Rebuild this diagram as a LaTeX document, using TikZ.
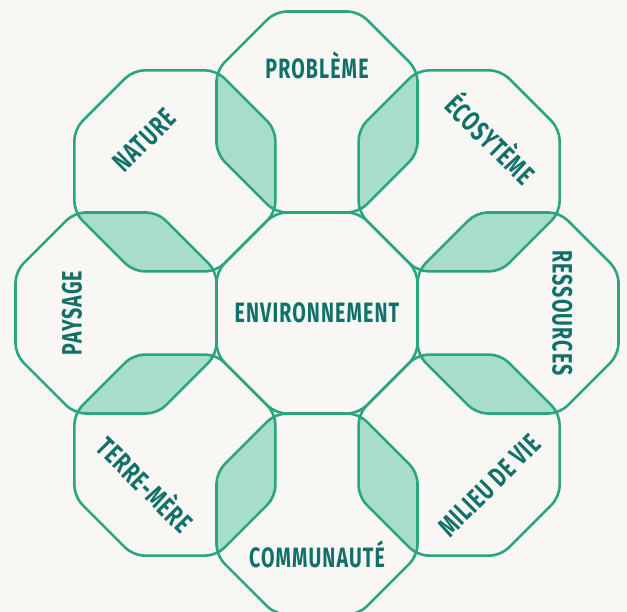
\documentclass[tikz,border=0pt]{standalone}
\usepackage{fontspec}
\newfontfamily\labelfont{Fira Sans}[FakeStretch=0.7,LetterSpace=4]
\definecolor{octline}{HTML}{2AA57E}
\definecolor{octfill}{HTML}{A8DCCB}
\definecolor{labeltext}{HTML}{12706A}
\definecolor{paper}{HTML}{F9F7F3}
% one octagon round the origin
\newcommand{\octo}{(22.5:108.8) -- (67.5:108.8) -- (112.5:108.8) -- (157.5:108.8) -- (202.5:108.8) -- (247.5:108.8) -- (292.5:108.8) -- (337.5:108.8) -- cycle}

\begin{document}
\begin{tikzpicture}[x=1pt,y=1pt,
  octo/.style={draw=octline,line width=2.6pt,rounded corners=11pt},
  lab/.style={font=\labelfont\bfseries\fontsize{28}{28}\selectfont,text=labeltext,inner sep=0pt,text height=19pt,text depth=0pt}]
\fill[paper] (0,0) rectangle (627,612);
\useasboundingbox (0,0) rectangle (627,612);
%================================================================
%	Centres
\coordinate (env) at (317,299);
\foreach \ang/\nm in {90/probleme,45/ecosysteme,0/ressources,-45/milieu,-90/communaute,-135/terre,180/paysage,135/nature}
  \coordinate (\nm) at ([shift={(\ang:201)}]env);
%================================================================
%	Overlaps
\foreach \a/\b in {probleme/ecosysteme,ecosysteme/ressources,ressources/milieu,milieu/communaute,communaute/terre,terre/paysage,paysage/nature,nature/probleme}{
  \begin{scope}
    \clip[rounded corners=11pt,shift={(\a)}] \octo;
    \fill[octfill,rounded corners=11pt,shift={(\b)}] \octo;
  \end{scope}
}
%----------------------------------------------------------------
%	Octagons
\foreach \nm in {env,probleme,ecosysteme,ressources,milieu,communaute,terre,paysage,nature}
  \draw[octo,shift={(\nm)}] \octo;
%================================================================
%	Labels
\node[lab] (lenv) at (env) {ENVIRONNEMENT};
\node[lab] (lprobleme) at ([shift={(90:43)}]probleme) {PROBLÈME};
\node[lab,rotate=-45] (lecosysteme) at ([shift={(45:43)}]ecosysteme) {ÉCOSYTÈME};
\node[lab,rotate=-90] (lressources) at ([shift={(0:44)}]ressources) {RESSOURCES};
\node[lab,rotate=45] (lmilieu) at ([shift={(-45:43)}]milieu) {MILIEU DE VIE};
\node[lab] (lcommunaute) at ([shift={(-90:44)}]communaute) {COMMUNAUTÉ};
\node[lab,rotate=-45] (lterre) at ([shift={(-135:43)}]terre) {TERRE-MÈRE};
\node[lab,rotate=90] (lpaysage) at ([shift={(180:44)}]paysage) {PAYSAGE};
\node[lab,rotate=45] (lnature) at ([shift={(135:43)}]nature) {NATURE};
%================================================================
\end{tikzpicture}
\end{document}
